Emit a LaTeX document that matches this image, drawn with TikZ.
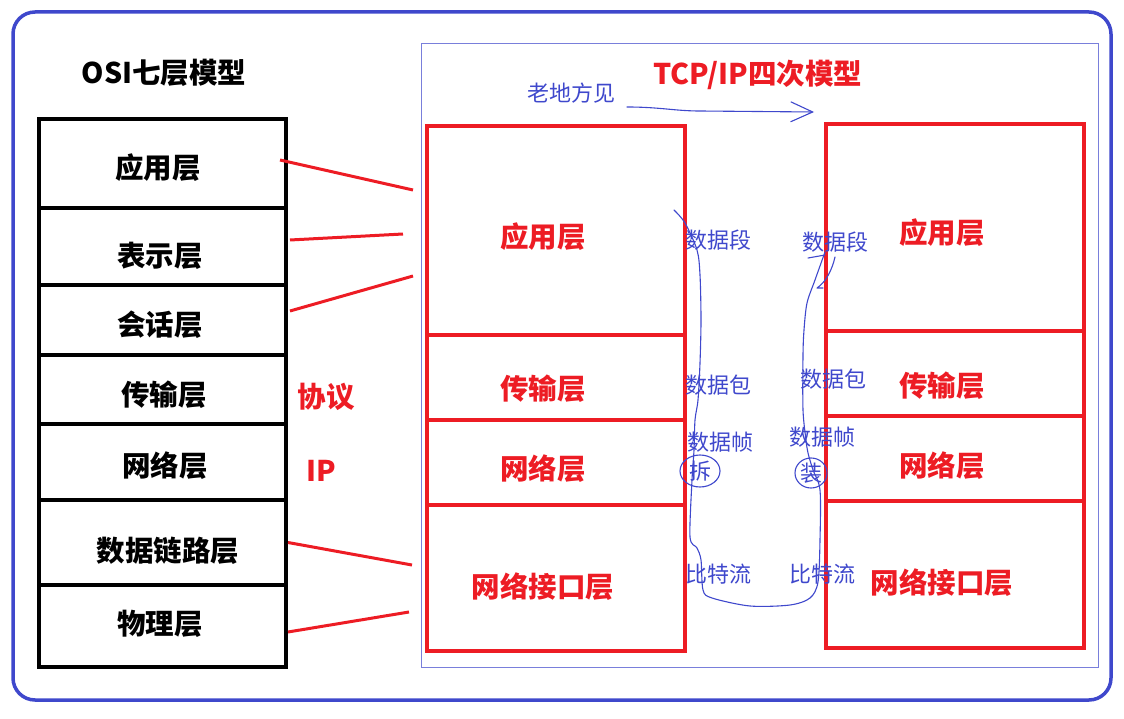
\documentclass[tikz,border=0pt]{standalone}
\usepackage{fontspec}
\setmainfont{Noto Sans CJK SC}
\usetikzlibrary{positioning,arrows.meta,calc}
\definecolor{paintred}{HTML}{ED1C24}
\definecolor{paintblue}{HTML}{3F48CC}
\tikzset{
  node distance=0pt,
  every node/.style={align=center, inner sep=0pt, outer sep=0pt},
  osibox/.style={
    draw=black, line width=3.5pt,
    minimum width=247pt
  },
  tcpbox/.style={
    draw=paintred, line width=3.5pt,
    minimum width=258pt
  },
  title/.style={font=\fontsize{28.5}{30}\selectfont\bfseries},
  ositext/.style={title},
  tcptext/.style={title, text=paintred},
  note/.style={text=paintblue, font=\fontsize{22}{24}\selectfont},
  link/.style={draw=paintred, line width=3pt},
  pen/.style={draw=paintblue, line width=1.1pt, line join=round, line cap=round}
}

\begin{document}
\begin{tikzpicture}[x=1pt, y=-1pt]
\useasboundingbox (0,0) rectangle (1124,719);

%% ===========================================================================
%% frames
%% ===========================================================================
\draw[paintblue, line width=3.5pt, rounded corners=22pt] (13,12) rectangle (1111,700);
\draw[paintblue!70, line width=1pt] (421,44) rectangle (1098,667);

%% ===========================================================================
%% OSI seven layers
%% ===========================================================================
\node[title] (osititle) at (164,73) {OSI七层模型};

\node[osibox, minimum height=89pt, anchor=north west] (osiapp) at (39,119) {};
\node[osibox, minimum height=77pt, below=of osiapp]   (osipre) {};
\node[osibox, minimum height=70pt, below=of osipre]   (osises) {};
\node[osibox, minimum height=69pt, below=of osises]   (ositra) {};
\node[osibox, minimum height=76pt, below=of ositra]   (osinet) {};
\node[osibox, minimum height=85pt, below=of osinet]   (osidl)  {};
\node[osibox, minimum height=82pt, below=of osidl]    (osiphy) {};

\node[ositext] (tosiapp) at (158,168) {应用层};
\node[ositext] (tosipre) at (160,256) {表示层};
\node[ositext] (tosises) at (160,325) {会话层};
\node[ositext] (tositra) at (164,395) {传输层};
\node[ositext] (tosinet) at (165,466) {网络层};
\node[ositext] (tosidl)  at (168,551) {数据链路层};
\node[ositext] (tosiphy) at (160,624) {物理层};

% protocol labels
\node[tcptext] (proto) at (326,397) {协议};
\node[tcptext] (ip)    at (321,471) {IP};

%% ===========================================================================
%% TCP/IP model, sender and receiver
%% ===========================================================================
\node[tcptext] (tcptitle) at (758,75) {TCP/IP四次模型};

% left stack
\node[tcpbox, minimum height=209pt, anchor=north west] (lapp) at (427,126) {};
\node[tcpbox, minimum height=85pt,  below=of lapp] (ltra) {};
\node[tcpbox, minimum height=85pt,  below=of ltra] (lnet) {};
\node[tcpbox, minimum height=146pt, below=of lnet] (lif)  {};

\node[tcptext] (tlapp) at (543,237) {应用层};
\node[tcptext] (tltra) at (543,389) {传输层};
\node[tcptext] (tlnet) at (543,469) {网络层};
\node[tcptext] (tlif)  at (543,587) {网络接口层};

% right stack
\node[tcpbox, minimum height=207pt, anchor=north west] (rapp) at (826,124) {};
\node[tcpbox, minimum height=85pt,  below=of rapp] (rtra) {};
\node[tcpbox, minimum height=85pt,  below=of rtra] (rnet) {};
\node[tcpbox, minimum height=147pt, below=of rnet] (rif)  {};

\node[tcptext] (trapp) at (942,233) {应用层};
\node[tcptext] (trtra) at (942,386) {传输层};
\node[tcptext] (trnet) at (942,466) {网络层};
\node[tcptext] (trif)  at (942,583) {网络接口层};

% mapping OSI -> TCP/IP
\coordinate (m1) at (413,190);
\coordinate (m2) at (403,234);
\coordinate (m3) at (413,276);
\coordinate (m4) at (412,565);
\coordinate (m5) at (409,612);
\draw[link] ($(osiapp.east)+(-6,-3.5)$) -- (m1);
\draw[link] ($(osipre.east)+(4,-6.5)$)  -- (m2);
\draw[link] ($(osises.east)+(4,-9)$)    -- (m3);
\draw[link] ($(osidl.east)+(2,0)$)      -- (m4);
\draw[link] ($(osiphy.east)+(2,6)$)     -- (m5);

%% ===========================================================================
%% hand-written notes
%% ===========================================================================
\node[note] (meet) at (571,93) {老地方见};
\coordinate (meetend) at (814,112);
\draw[pen, -{Straight Barb[length=22pt, width=20pt]}]
  (627,107) .. controls (660,107) and (675,111) .. (700,111) -- (meetend);

% sender side
\node[note] (lseg)  at (718,240) {数据段};
\node[note] (lpkt)  at (718,385) {数据包};
\node[note] (lfrm)  at (720,442) {数据帧};
\node[note] (lcut)  at (700,471) {拆};
\node[note] (lbit)  at (718,574) {比特流};

% receiver side
\node[note] (rseg)  at (835,242) {数据段};
\node[note] (rpkt)  at (833,379) {数据包};
\node[note] (rfrm)  at (822,437) {数据帧};
\node[note] (rpack) at (811,473) {装};
\node[note] (rbit)  at (822,574) {比特流};

\draw[pen] (lcut) ellipse [x radius=20pt, y radius=16pt];
\draw[pen] (rpack) ellipse [x radius=16pt, y radius=15pt];

% the path down and up again
\draw[pen] plot[smooth, tension=0.5] coordinates {
  (674,210) (685,223) (697,250) (700,275) (701,320) (700,363) (698,400)
  (695,420) (694,450) (692,480) (690,537) (697,548) (701,560) (703,590)
  (712,598) (750,606) (790,605) (810,598) (818,582) (820,540) (820,490)
  (813,470) (808,453) (806,440) (803,410) (803,355) (804,330) (807,303)
  (815,280) (825,252)};
\draw[pen] (808,258) -- (825,255);
\draw[pen] (835,257) .. controls (832,270) and (826,282) .. (817,288) -- (823,288);

\end{tikzpicture}
\end{document}
